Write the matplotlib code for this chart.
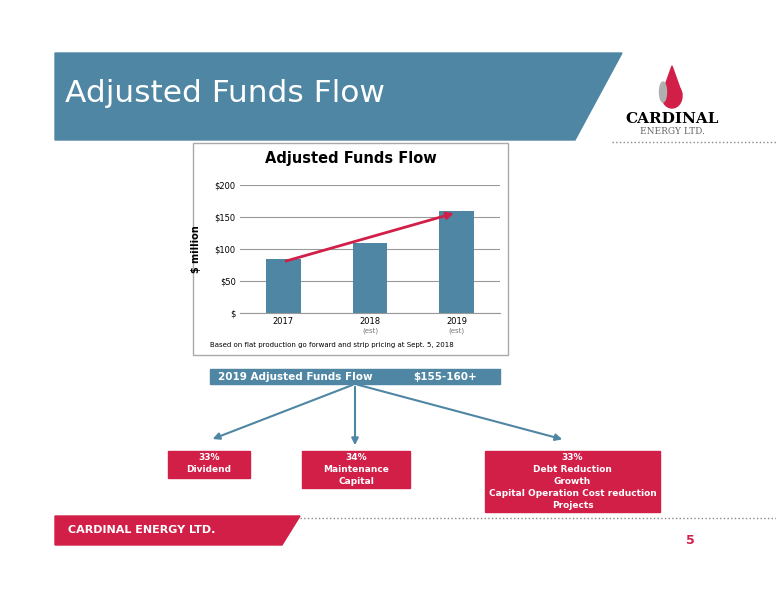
import matplotlib.pyplot as plt
from matplotlib.patches import Polygon, Rectangle, FancyArrowPatch, Ellipse

years = ["2017", "2018", "2019"]
sublabels = ["", "(est)", "(est)"]
funds = [84, 110, 160]
yticks = [0, 50, 100, 150, 200]
ytick_labels = ["$", "$50", "$100", "$150", "$200"]

W, H = 776, 600
blue = "#4e86a3"
red = "#d21f48"

fig = plt.figure(figsize=(7.76, 6), dpi=100)
bg = fig.add_axes([0, 0, 1, 1])
bg.set_xlim(0, W)
bg.set_ylim(H, 0)
bg.axis("off")

# header banner
bg.add_patch(Polygon([(55, 53), (622, 53), (575, 140), (55, 140)], color=blue))
bg.text(65, 93, "Adjusted Funds Flow", color="white", fontsize=22.5, va="center")
bg.plot([612, 776], [142, 142], ls=":", color="#888888", lw=1)

# logo
bg.add_patch(Ellipse((672, 96), 20, 24, color=red))
bg.add_patch(Polygon([(662, 94), (672, 66), (682, 94)], color=red))
bg.add_patch(Ellipse((663, 92), 7, 20, color="#b0b0b0"))
bg.text(672, 119, "CARDINAL", fontsize=11, fontweight="bold", family="DejaVu Serif",
        ha="center", va="center")
bg.text(672, 131, "ENERGY LTD.", fontsize=6.5, family="DejaVu Serif", color="#666666",
        ha="center", va="center")

# footer
bg.add_patch(Polygon([(55, 516), (300, 516), (282, 545), (55, 545)], color=red))
bg.text(68, 530, "CARDINAL ENERGY LTD.", color="white", fontsize=8, fontweight="bold",
        va="center")
bg.plot([300, 776], [518, 518], ls=":", color="#888888", lw=1)
bg.text(690, 541, "5", color=red, fontsize=9, fontweight="bold", ha="center", va="center")

# chart frame
bg.add_patch(Rectangle((193, 143), 315, 212, fill=False, ec="#aaaaaa", lw=1))
bg.text(351, 159, "Adjusted Funds Flow", fontsize=10.5, fontweight="bold", ha="center",
        va="center")
bg.text(210, 345, "Based on flat production go forward and strip pricing at Sept. 5, 2018",
        fontsize=5, va="center")

ax = fig.add_axes([240 / W, 1 - 313 / H, 260 / W, 128 / H])
ax.bar(range(len(years)), funds, width=0.4, color=blue)
ax.set_xlim(-0.5, 2.5)
ax.set_ylim(0, 200)
ax.set_yticks(yticks)
ax.set_yticklabels(ytick_labels, fontsize=6)
ax.set_xticks(range(len(years)))
ax.set_xticklabels(years, fontsize=6)
for i, s in enumerate(sublabels):
    ax.text(i, -27, s, fontsize=5, color="#777777", ha="center", va="center")
ax.grid(axis="y", color="#999999", lw=0.8)
ax.set_axisbelow(True)
for sp in ["top", "right", "left"]:
    ax.spines[sp].set_visible(False)
ax.spines["bottom"].set_color("#999999")
ax.tick_params(length=0, pad=3)
ax.set_ylabel("$ million", fontsize=7, fontweight="bold", labelpad=10)
ax.annotate("", xy=(2, funds[2] - 3), xytext=(0, funds[0] - 4),
            arrowprops=dict(arrowstyle="-|>", color=red, lw=2, mutation_scale=10))

# summary box
bg.add_patch(Rectangle((210, 369), 290, 15, color=blue))
bg.text(218, 377, "2019 Adjusted Funds Flow", color="white", fontsize=7.5,
        fontweight="bold", va="center")
bg.text(413, 377, "$155-160+", color="white", fontsize=7.5, fontweight="bold", va="center")

for tx, ty in [(210, 440), (355, 448), (565, 440)]:
    bg.add_patch(FancyArrowPatch((355, 384), (tx, ty), arrowstyle="-|>", color=blue,
                                 lw=1.5, mutation_scale=10))

boxes = [
    (168, 250, 478, ["33%", "Dividend"]),
    (302, 410, 488, ["34%", "Maintenance", "Capital"]),
    (485, 660, 512, ["33%", "Debt Reduction", "Growth",
                     "Capital Operation Cost reduction", "Projects"]),
]
for x0, x1, y1, lines in boxes:
    bg.add_patch(Rectangle((x0, 451), x1 - x0, y1 - 451, color=red))
    for k, t in enumerate(lines):
        bg.text((x0 + x1) / 2, 457 + 12 * k, t, color="white", fontsize=6.5,
                fontweight="bold", ha="center", va="center")

fig.savefig("out.png", dpi=100)
